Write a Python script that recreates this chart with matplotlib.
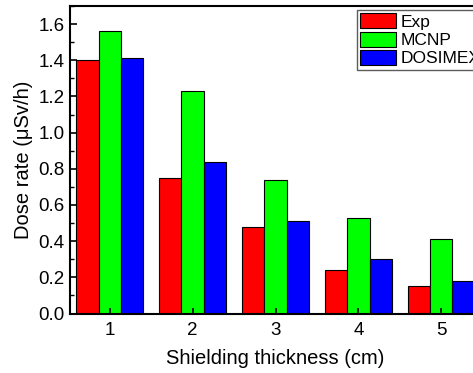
import numpy as np
import matplotlib.pyplot as plt
from matplotlib.ticker import MultipleLocator

# dados
thickness = [1, 2, 3, 4, 5]
exp_vals = [1.40, 0.75, 0.48, 0.24, 0.15]
mcnp_vals = [1.56, 1.23, 0.74, 0.53, 0.41]
dosimex_vals = [1.41, 0.84, 0.51, 0.30, 0.18]

plt.rcParams['font.family'] = ['Liberation Sans', 'DejaVu Sans']

fig = plt.figure(figsize=(4.73, 3.73), dpi=100)
# o eixo passa um pouco da borda direita, como no original
ax = fig.add_axes([70 / 473, 1 - 313.5 / 373, 411 / 473, 307.5 / 373])

x = np.array(thickness)
w = 0.27
ax.bar(x - w, exp_vals, w, color='#ff0000', edgecolor='black', linewidth=0.8, label='Exp')
ax.bar(x, mcnp_vals, w, color='#00ff00', edgecolor='black', linewidth=0.8, label='MCNP')
ax.bar(x + w, dosimex_vals, w, color='#0000ff', edgecolor='black', linewidth=0.8, label='DOSIMEX')

ax.set_xlim(0.52, 5.48)
ax.set_ylim(0, 1.7)
ax.set_xticks(thickness)
ax.yaxis.set_major_locator(MultipleLocator(0.2))
ax.yaxis.set_minor_locator(MultipleLocator(0.1))
ax.yaxis.set_major_formatter(plt.FormatStrFormatter('%.1f'))
ax.tick_params(axis='both', direction='in', labelsize=13.5, width=1.2)
ax.tick_params(axis='y', which='major', length=5, pad=4)
ax.tick_params(axis='y', which='minor', direction='in', length=3, width=1.0)
ax.tick_params(axis='x', length=4, pad=6)
for s in ax.spines.values():
    s.set_linewidth(1.5)

ax.set_xlabel('Shielding thickness (cm)', fontsize=14.5, labelpad=7)
ax.set_ylabel('Dose rate (μSv/h)', fontsize=14.5, labelpad=4)

leg = fig.legend(loc='upper left', bbox_to_anchor=(357 / 473, 1 - 10 / 373),
                 fontsize=12.5, frameon=True, fancybox=False, edgecolor='#333333',
                 handlelength=2.05, handleheight=0.95, handletextpad=0.25,
                 labelspacing=0.1, borderpad=0.2, borderaxespad=0)
leg.get_frame().set_linewidth(1.0)

fig.savefig('out.png', dpi=100, facecolor='white')
